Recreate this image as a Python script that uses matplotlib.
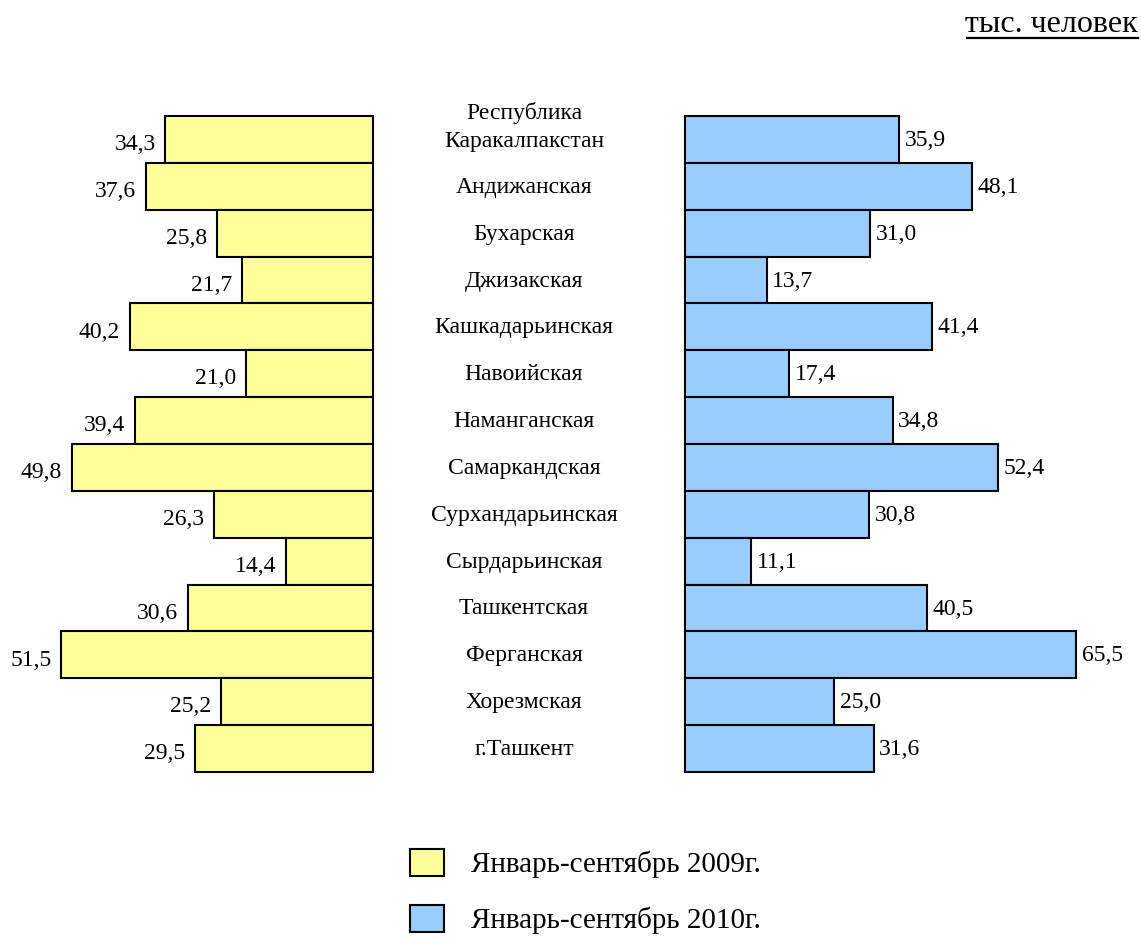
import matplotlib
matplotlib.use('agg')
import matplotlib.pyplot as plt
from matplotlib.patches import Patch

plt.rcParams['font.family'] = ['Liberation Serif', 'DejaVu Serif']

regions = ['Республика\nКаракалпакстан', 'Андижанская', 'Бухарская', 'Джизакская',
           'Кашкадарьинская', 'Навоийская', 'Наманганская', 'Самаркандская',
           'Сурхандарьинская', 'Сырдарьинская', 'Ташкентская', 'Ферганская',
           'Хорезмская', 'г.Ташкент']
y2009 = [34.3, 37.6, 25.8, 21.7, 40.2, 21.0, 39.4, 49.8, 26.3, 14.4, 30.6, 51.5, 25.2, 29.5]
y2010 = [35.9, 48.1, 31.0, 13.7, 41.4, 17.4, 34.8, 52.4, 30.8, 11.1, 40.5, 65.5, 25.0, 31.6]
labels = ['Январь-сентябрь 2009г.', 'Январь-сентябрь 2010г.']
c2009 = '#FFFF99'
c2010 = '#99CCFF'

def fmt(v):
    return ('%.1f' % v).replace('.', ',')

W, H = 1141, 938
fig = plt.figure(figsize=(W / 100, H / 100), dpi=100)
top, bot = 116, 772
ax1 = fig.add_axes([0, (H - bot) / H, 373 / W, (bot - top) / H])
ax2 = fig.add_axes([685 / W, (H - bot) / H, (W - 685) / W, (bot - top) / H])

pos = list(range(len(regions)))
b1 = ax1.barh(pos, y2009, height=1.0, color=c2009, edgecolor='black', linewidth=1.5)
b2 = ax2.barh(pos, y2010, height=1.0, color=c2010, edgecolor='black', linewidth=1.5)
for p in list(b1) + list(b2):
    p.set_clip_on(False)

ax1.set_xlim(373 / 6.05, 0)
ax2.set_xlim(0, (W - 685) / 5.97)
for ax in (ax1, ax2):
    ax.set_ylim(len(regions) - 0.5, -0.5)
    ax.axis('off')

for i, v in enumerate(y2009):
    ax1.annotate(fmt(v), (v, i), xytext=(-7, -2), textcoords='offset points',
                 ha='right', va='center_baseline', fontsize=17)
for i, v in enumerate(y2010):
    ax2.annotate(fmt(v), (v, i), xytext=(4, 1), textcoords='offset points',
                 ha='left', va='center_baseline', fontsize=17)

# category names between the two panels
step = (bot - top) / len(regions)
for i, name in enumerate(regions):
    yc = top + (i + 0.5) * step + 1
    if i == 0:
        yc = 127
    fig.text(524 / W, (H - yc) / H, name, ha='center', va='center', fontsize=17,
             linespacing=1.45)

fig.text(1138 / W, (H - 32) / H, 'тыс. человек', ha='right', va='baseline',
         fontsize=23)
fig.add_artist(plt.Line2D([967 / W, 1138 / W], [(H - 38) / H] * 2,
                          color='black', linewidth=1.6))

handles = [Patch(facecolor=c2009, edgecolor='black', linewidth=1.5),
           Patch(facecolor=c2010, edgecolor='black', linewidth=1.5)]
fig.legend(handles, labels, loc='upper left', bbox_to_anchor=(410 / W, (H - 849) / H),
           frameon=False, fontsize=21, handlelength=1.15, handleheight=1.05,
           handletextpad=0.95, labelspacing=0.9, borderpad=0, borderaxespad=0)

plt.savefig('out.png', dpi=100)
